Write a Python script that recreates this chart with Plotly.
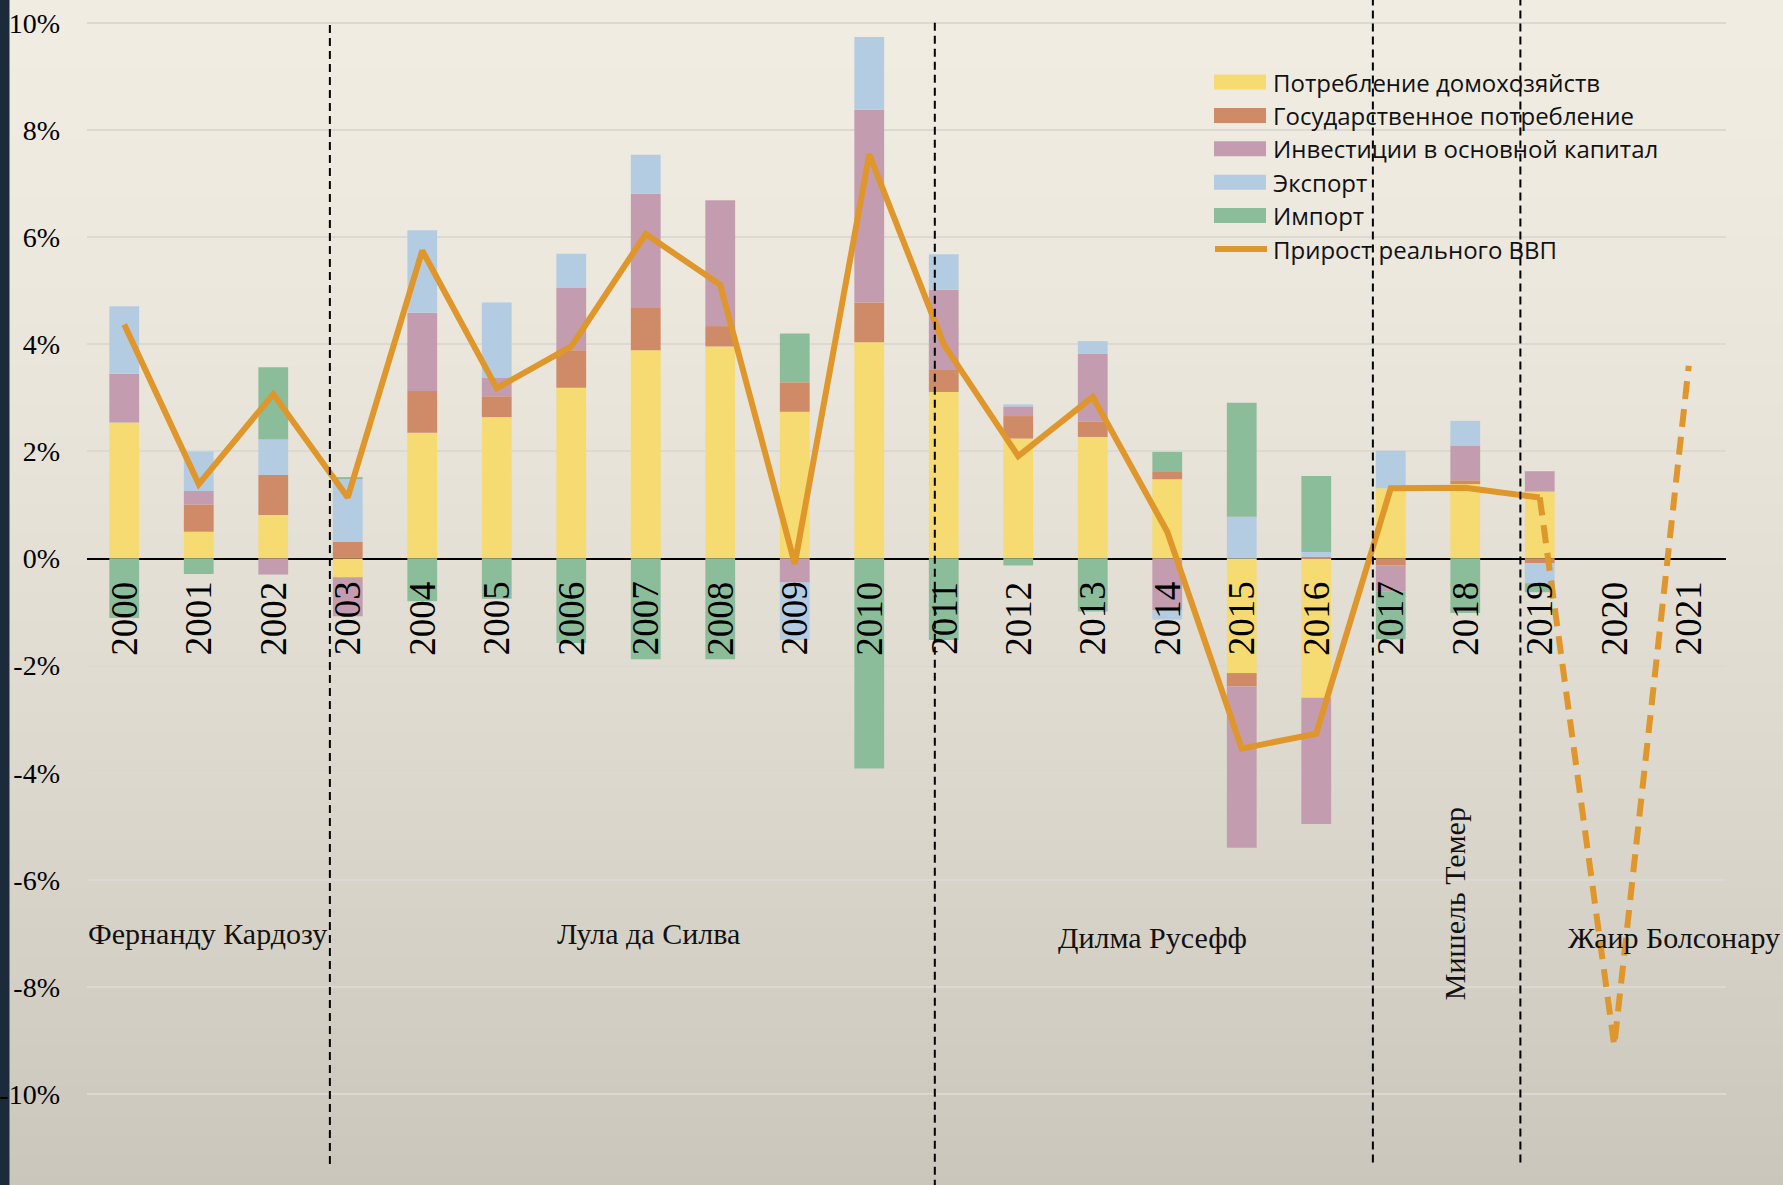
import plotly.graph_objects as go

# ---------------- data ----------------
years = list(range(2000, 2022))
year_labels = [str(y) for y in years]

household = [2.54, 0.50, 0.81, -0.35, 2.35, 2.64, 3.19, 3.89, 3.96, 2.74, 4.04,
             3.11, 2.24, 2.27, 1.48, -2.14, -2.60, 1.31, 1.39, 1.25, None, None]
government = [0.00, 0.51, 0.75, 0.31, 0.78, 0.39, 0.70, 0.79, 0.38, 0.55, 0.74,
              0.41, 0.42, 0.29, 0.15, -0.25, 0.03, -0.13, 0.07, -0.09, None, None]
investment = [0.91, 0.25, -0.30, -0.73, 1.46, 0.34, 1.16, 2.13, 2.35, -0.45, 3.60,
              1.50, 0.18, 1.26, -0.97, -3.01, -2.36, -0.48, 0.65, 0.38, None, None]
exports = [1.26, 0.74, 0.66, 1.17, 1.54, 1.41, 0.64, 0.73, 0.00, -1.07, 1.36,
           0.66, 0.04, 0.24, -0.17, 0.78, 0.09, 0.70, 0.46, -0.37, None, None]
imports = [-1.11, -0.29, 1.35, 0.04, -0.80, -0.75, -1.58, -1.88, -1.88, 0.91, -3.92,
           -1.52, -0.13, -0.99, 0.36, 2.13, 1.42, -0.90, -1.02, -0.17, None, None]
gdp_growth = [4.37, 1.39, 3.07, 1.14, 5.75, 3.18, 3.96, 6.06, 5.11, -0.10, 7.55,
              4.00, 1.91, 3.02, 0.50, -3.55, -3.27, 1.31, 1.32, 1.14, -9.10, 3.60]
forecast_start = 2019  # last actual year; dashed afterwards

series_names = ["Потребление домохозяйств", "Государственное потребление",
                "Инвестиции в основной капитал", "Экспорт", "Импорт"]
gdp_name = "Прирост реального ВВП"

y_ticks = [-10, -8, -6, -4, -2, 0, 2, 4, 6, 8, 10]
y_tick_text = [f"{v}%" for v in y_ticks]

presidents = ["Фернанду Кардозу", "Лула да Силва", "Дилма Русефф", "Мишель Темер", "Жаир Болсонару"]

# ---------------- style ----------------
colors = ["#f6da72", "#cf8a67", "#c49caf", "#b4cce2", "#8cbd9b"]
gdp_color = "#df962b"

W, H = 1783, 1185
ML, MR = 87, 57
PW = W - ML - MR

def xp(px):
    return (px - ML) / PW

def yp(py):
    return 1 - py / H

fig = go.Figure()

for name, vals, col in zip(series_names,
                           [household, government, investment, exports, imports],
                           colors):
    fig.add_trace(go.Bar(x=years, y=vals, name=name, marker_color=col,
                         marker_line_width=0, showlegend=False))

i0 = years.index(forecast_start)
fig.add_trace(go.Scatter(x=years[:i0 + 1], y=gdp_growth[:i0 + 1], mode="lines",
                         name=gdp_name, line=dict(color=gdp_color, width=6),
                         showlegend=False))
fig.add_trace(go.Scatter(x=years[i0:], y=gdp_growth[i0:], mode="lines",
                         name=gdp_name + " (прогноз)",
                         line=dict(color=gdp_color, width=6, dash="18px,10px"),
                         showlegend=False))

shapes = []
# background vertical gradient
N = 120
top = (240, 236, 226)
bot = (203, 198, 187)
for k in range(N):
    t0 = k / N
    t1 = (k + 1) / N
    tm = ((t0 + t1) / 2) ** 1.5
    c = tuple(round(top[j] + (bot[j] - top[j]) * tm) for j in range(3))
    shapes.append(dict(type="rect", xref="paper", yref="paper",
                       x0=xp(0), x1=xp(W), y0=1 - t1 - 0.001, y1=1 - t0,
                       fillcolor=f"rgb{c}", line_width=0, layer="below"))
# dark strip on the left (below the tick labels)
shapes.append(dict(type="rect", xref="paper", yref="paper", x0=xp(0), x1=xp(9.5),
                   y0=0, y1=1, fillcolor="#1c2b3c", line_width=0, layer="below"))

# dashed separators between presidencies
sep = [(2002.76, -11.31, 10.0), (2010.88, -11.75, 10.04),
       (2016.76, -11.28, 10.45), (2018.74, -11.28, 10.45)]
for x, ya, yb in sep:
    shapes.append(dict(type="line", xref="x", yref="y", x0=x, x1=x, y0=ya, y1=yb,
                       line=dict(color="black", width=2, dash="8px,5px"), layer="above"))

# custom legend
row0, dy = 82, 33.4
for k, (name, col) in enumerate(zip(series_names, colors)):
    cy = row0 + k * dy
    shapes.append(dict(type="rect", xref="paper", yref="paper",
                       x0=xp(1214), x1=xp(1266), y0=yp(cy + 7.5), y1=yp(cy - 7.5),
                       fillcolor=col, line_width=0, layer="above"))
cy_line = row0 + 5 * dy
shapes.append(dict(type="line", xref="paper", yref="paper",
                   x0=xp(1215), x1=xp(1267), y0=yp(cy_line), y1=yp(cy_line),
                   line=dict(color=gdp_color, width=6), layer="above"))

annotations = []
for k, name in enumerate(series_names + [gdp_name]):
    annotations.append(dict(text=name, xref="paper", yref="paper",
                            x=xp(1271), y=yp(row0 + k * dy), xanchor="left",
                            yanchor="middle", showarrow=False,
                            font=dict(family="Open Sans", size=24, color="#111")))

# year labels along the zero line
for yr, lab in zip(years, year_labels):
    annotations.append(dict(text=lab, x=yr, y=0, xref="x", yref="y", textangle=-90,
                            xanchor="center", yanchor="top", yshift=-21, showarrow=False,
                            font=dict(family="Liberation Serif", size=37, color="black")))

# president labels
pres_pos = [(2001.12, -7.0, 0), (2007.04, -7.0, 0), (2013.8, -7.07, 0),
            (2017.86, -6.44, -90), (2020.8, -7.07, 0)]
for name, (x, y, ang) in zip(presidents, pres_pos):
    annotations.append(dict(text=name, x=x, y=y, xref="x", yref="y", textangle=ang,
                            xanchor="center", yanchor="middle", showarrow=False,
                            font=dict(family="Liberation Serif", size=30, color="#111")))

fig.update_layout(
    width=W, height=H, autosize=False,
    margin=dict(l=ML, r=MR, t=0, b=0, pad=0, autoexpand=False),
    barmode="relative", bargap=0.6,
    paper_bgcolor="#e9e5db", plot_bgcolor="rgba(0,0,0,0)",
    shapes=shapes, annotations=annotations, showlegend=False,
    xaxis=dict(range=[1999.5, 2021.5], showticklabels=False, showgrid=False,
               zeroline=False, ticks="", showline=False, automargin=False),
    yaxis=dict(range=[-11.70, 10.43], tickvals=y_ticks, ticktext=y_tick_text,
               showgrid=True, gridcolor="#dcd9d2", gridwidth=2,
               zeroline=True, zerolinecolor="black", zerolinewidth=2,
               ticks="", ticklabelstandoff=26, showline=False, automargin=False,
               tickfont=dict(family="Liberation Serif", size=28, color="black")),
)

fig.write_html("out.html",
               config={"displayModeBar": False},
               post_script="document.body.style.margin='0';"
                           "document.body.style.overflow='hidden';")
